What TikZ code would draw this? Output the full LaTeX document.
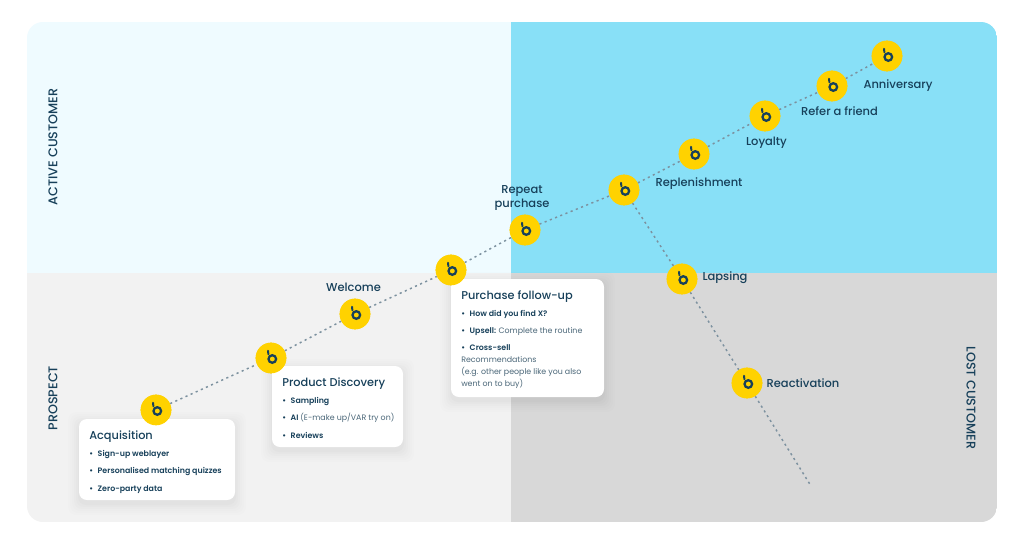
\documentclass[tikz,border=0pt]{standalone}
\usepackage{fontspec}
\setmainfont{Poppins}
\newfontfamily\medfont{Poppins Medium}
\newfontfamily\semifont{Poppins SemiBold}
\usetikzlibrary{calc}
\definecolor{ink}{HTML}{17405A}
\definecolor{inksoft}{HTML}{4A6678}
\definecolor{dotc}{HTML}{7C919F}
\definecolor{tl}{HTML}{EFFBFF}
\definecolor{tr}{HTML}{88E0F7}
\definecolor{bl}{HTML}{F2F2F2}
\definecolor{br}{HTML}{D8D8D8}
\definecolor{sun}{HTML}{FFD200}
\tikzset{
  x=0.75pt,y=-0.75pt,
  stage/.style={circle,fill=sun,minimum size=23pt,inner sep=0pt},
  lab/.style={text=ink,font=\medfont\fontsize{8.6}{10.5}\selectfont,inner sep=0pt},
  axis/.style={text=ink,font=\medfont\fontsize{9.5}{11}\selectfont,inner sep=0pt},
  head/.style={text=ink,anchor=base west,font=\medfont\fontsize{8.5}{11}\selectfont,inner sep=0pt},
  item/.style={text=ink,anchor=base west,font=\fontsize{5.9}{8}\selectfont,inner sep=0pt},
  link/.style={draw=dotc,line width=1.1pt,dash pattern=on 1.6pt off 2.6pt},
}
\newcommand{\softcard}[4]{%
  \foreach \g/\o in {11/0.006,9/0.007,7/0.008,5/0.01,3/0.012,1/0.014}{
    \fill[black,opacity=\o,rounded corners=6pt] (#1-\g,#2-\g+4) rectangle (#3+\g,#4+\g+4);
  }
  \fill[white,rounded corners=6pt] (#1,#2) rectangle (#3,#4);
}
\newcommand{\logo}[1]{%
  \draw[ink,line width=1.7pt] ($(#1)+(1.3,1)$) circle[radius=3.8];
  \draw[ink,line width=1.5pt,line cap=round] ($(#1)+(-3,-7.2)$) -- ($(#1)+(-2.6,-3.8)$);
}
\begin{document}
\begin{tikzpicture}
\useasboundingbox (0,0) rectangle (1024,543);
\fill[white] (0,0) rectangle (1024,543);
\begin{scope}
\clip[rounded corners=12pt] (27,22) rectangle (997,522);
\fill[tl] (27,22) rectangle (511,273);
\fill[tr] (511,22) rectangle (997,273);
\fill[bl] (27,273) rectangle (511,522);
\fill[br] (511,273) rectangle (997,522);
\end{scope}

\node[stage] (acq) at (156,410) {};
\node[stage] (disc) at (271,358) {};
\node[stage] (wel) at (355,314) {};
\node[stage] (fol) at (451,270) {};
\node[stage] (rep) at (525,230) {};
\node[stage] (fork) at (624,190) {};
\node[stage] (repl) at (694,154) {};
\node[stage] (loy) at (765,116) {};
\node[stage] (ref) at (832,86) {};
\node[stage] (ann) at (887,56) {};
\node[stage] (lap) at (682,279) {};
\node[stage] (rea) at (747,383) {};
\coordinate (tail) at (811,486);

\draw[link] (acq) -- (disc);
\draw[link] (disc) -- (wel);
\draw[link] (wel) -- (fol);
\draw[link] (fol) -- (rep);
\draw[link] (rep) -- (fork);
\draw[link] (fork) -- (repl);
\draw[link] (repl) -- (loy);
\draw[link] (loy) -- (ref);
\draw[link] (ref) -- (ann);
\draw[link] (fork) -- (lap);
\draw[link] (lap) -- (rea);
\draw[link] (rea) -- (tail);

\softcard{79}{419}{235}{500}
\softcard{272}{366}{403}{447}
\softcard{451}{279}{604}{397}

\foreach \n in {acq,disc,wel,fol,rep,fork,repl,loy,ref,ann,lap,rea}{
  \node[stage] at (\n) {};
  \logo{\n}
}

\node[axis,rotate=90] (a1) at (53,147) {ACTIVE CUSTOMER};
\node[axis,rotate=90] (a2) at (53,398) {PROSPECT};
\node[axis,rotate=-90] (a3) at (971,398) {LOST CUSTOMER};

\node[lab] (t1) at (353.5,287) {Welcome};
\node[lab,align=center] (t2) at (522,198) {Repeat\\purchase};
\node[lab] (t3) at (699,183.5) {Replenishment};
\node[lab] (t4) at (766.5,143) {Loyalty};
\node[lab] (t5) at (839.5,111) {Refer a friend};
\node[lab] (t6) at (898,85.5) {Anniversary};
\node[lab] (t7) at (725,277.5) {Lapsing};
\node[lab] (t8) at (803,383) {Reactivation};

\node[head] (h1) at (89,439) {Acquisition};
\node[item] at (89,456) {\semifont•\hspace{3.5pt}Sign-up weblayer};
\node[item] at (89,473) {\semifont•\hspace{3.5pt}Personalised matching quizzes};
\node[item] at (89,491) {\semifont•\hspace{3.5pt}Zero-party data};

\node[head] (h2) at (282,386) {Product Discovery};
\node[item] at (282,403) {\semifont•\hspace{3.5pt}Sampling};
\node[item] at (282,420) {\semifont•\hspace{3.5pt}AI {\normalfont\color{inksoft}(E-make up/VAR try on)}};
\node[item] at (282,438) {\semifont•\hspace{3.5pt}Reviews};

\node[head] (h3) at (461,299) {Purchase follow-up};
\node[item] at (461,316) {\semifont•\hspace{3.5pt}How did you find X?};
\node[item] at (461,333) {\semifont•\hspace{3.5pt}Upsell: {\normalfont\color{inksoft}Complete the routine}};
\node[item] at (461,350) {\semifont•\hspace{3.5pt}Cross-sell};
\node[item,text=inksoft] at (461,362) {Recommendations};
\node[item,text=inksoft] at (461,374) {(e.g. other people like you also};
\node[item,text=inksoft] at (461,386) {went on to buy)};
\end{tikzpicture}
\end{document}
